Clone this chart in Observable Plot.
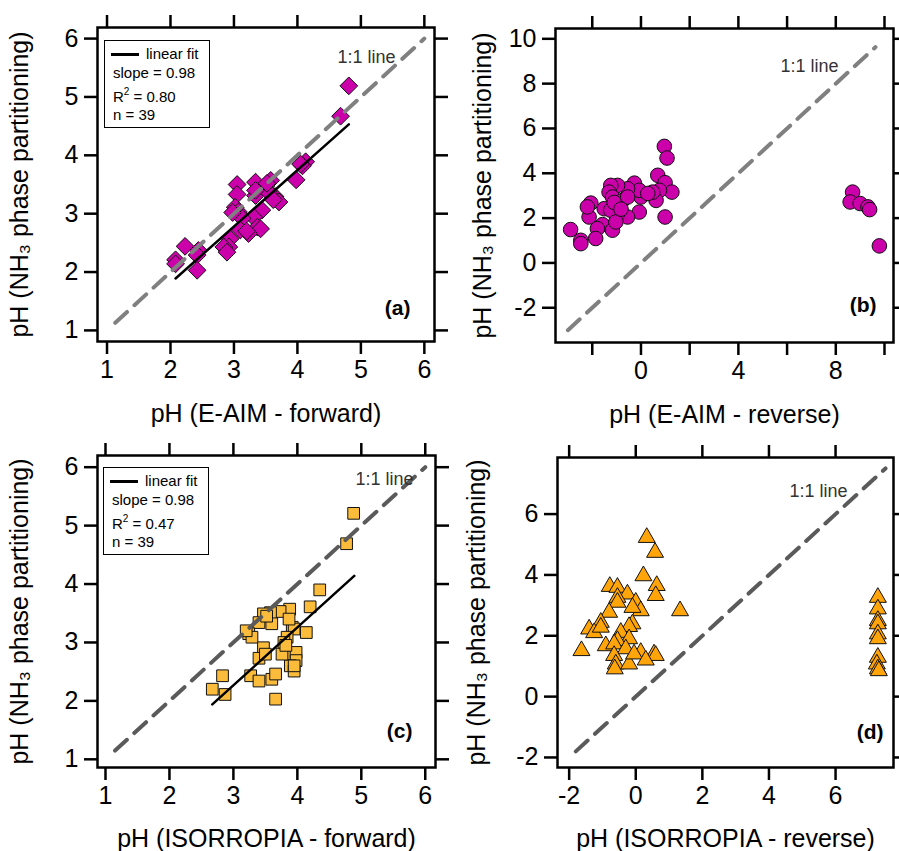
<!DOCTYPE html>
<html><head><meta charset="utf-8">
<script src="https://cdn.jsdelivr.net/npm/d3@7"></script>
<script src="https://cdn.jsdelivr.net/npm/@observablehq/plot@0.6"></script>
<style>
body{margin:0;background:#fff;}
#fig{position:relative;width:899px;height:851px;overflow:hidden;background:#fff;font-family:"Liberation Sans",Arial,sans-serif;}
.panel{position:absolute;}
.legend{position:absolute;border:1.5px solid #000;background:#fff;font-size:15px;color:#000;box-sizing:border-box;}
.legend div{position:absolute;white-space:nowrap;line-height:15px;}
.legend .sample{display:inline-block;width:28px;border-top:3px solid #000;vertical-align:middle;margin-right:7px;position:relative;top:-1px;}
.legend sup{font-size:10px;vertical-align:7px;line-height:0;}
</style></head><body><div id="fig"></div>
<script>
// ---------- data ----------
const yAxisLabel = "pH (NH\u2083 phase partitioning)";
const xLabelA = "pH (E-AIM - forward)";
const xLabelB = "pH (E-AIM - reverse)";
const xLabelC = "pH (ISORROPIA - forward)";
const xLabelD = "pH (ISORROPIA - reverse)";

// (a) E-AIM forward vs NH3 partitioning
const aX = [4.81,4.68,4.13,4.08,3.98,3.58,3.34,3.05,3.05,3.34,3.50,3.65,3.71,3.02,3.07,3.44,3.31,3.13,3.37,3.42,3.23,3.10,2.94,2.92,2.84,2.89,2.23,2.44,2.42,2.08,2.08,2.42,3.55,3.62,4.05,3.52,3.34,2.98,3.20];
const aY = [5.19,4.67,3.89,3.82,3.58,3.57,3.54,3.50,3.33,3.31,3.46,3.29,3.20,3.11,3.03,3.06,2.94,2.92,2.77,2.74,2.66,2.72,2.57,2.43,2.43,2.34,2.44,2.37,2.29,2.21,2.14,2.03,3.36,3.24,3.85,3.52,3.40,3.02,2.70];
const aFitX = [2.08, 4.81];
const aFitY = [1.89, 4.53];
const aOneToOne = [1.13, 6.0];

// (b) E-AIM reverse
const bX = [0.96,1.07,0.99,0.69,0.99,1.27,0.76,0.62,-0.27,0.00,-0.07,-0.55,-0.96,-1.24,-1.31,-1.17,-0.75,-0.55,-0.07,-0.55,-0.96,-0.96,-1.51,-1.24,-2.06,-2.13,-2.20,-1.58,-1.79,-1.86,-1.17,-1.03,-2.89,-2.47,-2.47,-1.10,-0.82,0.48,0.28,8.69,8.59,9.00,9.32,9.39,9.79];
const bY = [5.20,4.68,2.05,3.91,3.58,3.16,3.24,2.79,3.56,2.94,3.24,3.31,3.46,3.46,3.16,2.94,2.79,2.94,2.27,2.05,2.20,2.50,2.42,2.35,2.67,2.05,2.50,1.71,1.53,1.09,1.46,1.83,1.49,1.01,0.86,2.70,2.40,3.16,3.10,3.16,2.72,2.65,2.50,2.38,0.76];
const bOneToOne = [-3.0, 9.63];

// (c) ISORROPIA forward
const cX = [4.88,4.77,4.35,4.20,3.88,3.73,3.58,3.47,3.40,3.60,3.92,3.95,4.14,3.24,3.29,3.84,3.79,3.47,3.89,3.98,3.40,3.98,3.89,3.95,3.27,3.40,3.60,3.66,2.83,2.67,2.87,3.66,3.50,3.76,3.95,3.52,3.87,3.20,3.82];
const cY = [5.21,4.69,3.90,3.61,3.57,3.53,3.51,3.49,3.34,3.32,3.26,3.23,3.17,3.15,3.09,3.09,3.00,2.91,2.80,2.83,2.73,2.69,2.60,2.51,2.43,2.34,2.37,2.46,2.43,2.20,2.11,2.03,2.80,2.80,2.60,3.45,3.40,3.20,2.95];
const cFitX = [2.67, 4.89];
const cFitY = [1.94, 4.14];
const cOneToOne = [1.15, 6.0];

// (d) ISORROPIA reverse
const dX = [0.33,0.58,0.23,0.63,0.60,1.33,-0.78,-0.55,-0.25,0.00,0.15,-0.55,-0.55,-0.10,-0.80,-1.05,-1.40,-1.25,-1.05,-0.10,-0.20,-0.45,-0.20,-0.55,-0.90,-0.65,-1.63,-0.30,0.15,0.55,0.60,-0.65,-0.60,-0.63,-0.20,-0.05,0.30,7.27,7.27,7.27,7.27,7.27,7.27,7.27,7.24,7.27,7.30];
const dY = [5.23,4.74,3.97,3.65,3.32,2.82,3.62,3.59,3.37,3.10,2.82,3.26,3.10,2.93,2.77,2.44,2.22,2.10,2.28,2.39,2.30,2.11,1.90,1.84,1.67,1.73,1.51,1.57,1.45,1.40,1.35,1.35,1.07,0.91,1.07,1.40,1.20,3.26,2.88,2.50,2.39,2.06,1.90,1.29,1.07,0.91,0.85];
const dOneToOne = [-1.8, 7.5];

// ticks and tick labels
const fwdTicks = [1,2,3,4,5,6];
const fwdTickLabels = ["1","2","3","4","5","6"];
const bXTicks = [-2,0,2,4,6,8,10];
const bXTickLabels = ["","0","","4","","8",""];
const bYTicks = [-2,0,2,4,6,8,10];
const bYTickLabels = ["-2","0","2","4","6","8","10"];
const dXTicks = [-2,0,2,4,6];
const dXTickLabels = ["-2","0","2","4","6"];
const dYTicks = [-2,0,2,4,6];
const dYTickLabels = ["-2","0","2","4","6"];

const legendA = ["linear fit", "slope = 0.98", "0.80", "n = 39"];
const legendC = ["linear fit", "slope = 0.98", "0.47", "n = 39"];
const oneToOneText = "1:1 line";

// ---------- drawing ----------
const FONT = '"Liberation Sans", Arial, Helvetica, sans-serif';
const LETTER_FONT = '"Liberation Sans Narrow", "Arial Narrow", "Liberation Sans", Arial, sans-serif';
const fig = document.getElementById("fig");

function fmt(ticks, labels) {
  const m = new Map(ticks.map((t, i) => [t, labels[i]]));
  return d => m.get(d) ?? "";
}

function panel(cfg) {
  const pts = cfg.xs.map((x, i) => ({x, y: cfg.ys[i]}));
  const marks = [
    Plot.dot(pts, {x: "x", y: "y", symbol: cfg.symbol, r: cfg.r, fill: cfg.fill, stroke: "#111", strokeWidth: 1}),
    Plot.line(cfg.one, {x: d => d, y: d => d, stroke: cfg.dashColor, strokeWidth: 4, strokeDasharray: "16,10"}),
  ];
  if (cfg.fitX) {
    const fit = cfg.fitX.map((x, i) => ({x, y: cfg.fitY[i]}));
    marks.push(Plot.line(fit, {x: "x", y: "y", stroke: "#000", strokeWidth: 2.5}));
  }
  marks.push(
    Plot.frame({stroke: "#000", strokeWidth: 2.5}),
    Plot.axisX({anchor: "bottom", ticks: cfg.xTicks, tickSize: 13, tickPadding: 6, strokeWidth: 2.5,
      tickFormat: fmt(cfg.xTicks, cfg.xTickLabels), label: cfg.xLabel, labelAnchor: "center", labelArrow: "none", labelOffset: cfg.xLabelOffset}),
    Plot.axisX({anchor: "top", ticks: cfg.xTicks, tickSize: 13, strokeWidth: 2.5, tickFormat: () => "", label: null}),
    Plot.axisY({anchor: "left", ticks: cfg.yTicks, tickSize: 13, tickPadding: 6, strokeWidth: 2.5,
      tickFormat: fmt(cfg.yTicks, cfg.yTickLabels), label: yAxisLabel, labelAnchor: "center", labelArrow: "none", labelOffset: cfg.yLabelOffset}),
    Plot.axisY({anchor: "right", ticks: cfg.yTicks, tickSize: 13, strokeWidth: 2.5, tickFormat: () => "", label: null}),
    Plot.text([oneToOneText], {text: d => d, frameAnchor: "top-right", dx: cfg.oneDx, dy: cfg.oneDy, textAnchor: "end", fontSize: 18, fill: "#333"}),
    Plot.text([cfg.letter], {text: d => d, frameAnchor: "bottom-right", dx: cfg.letterDx, dy: cfg.letterDy, textAnchor: "end", fontSize: 21, fontWeight: "bold", fontFamily: LETTER_FONT, fill: "#000"})
  );
  const svg = Plot.plot({
    width: cfg.width, height: cfg.height,
    marginTop: cfg.m[0], marginRight: cfg.m[1], marginBottom: cfg.m[2], marginLeft: cfg.m[3],
    x: {domain: cfg.xDomain},
    y: {domain: cfg.yDomain},
    style: {fontFamily: FONT, fontSize: "25px", background: "transparent", color: "#000", overflow: "visible"},
    marks
  });
  const div = document.createElement("div");
  div.className = "panel";
  div.style.left = cfg.left + "px";
  div.style.top = cfg.top + "px";
  div.appendChild(svg);
  fig.appendChild(div);
}

function legend(items, left, top) {
  const box = document.createElement("div");
  box.className = "legend";
  Object.assign(box.style, {left: left + "px", top: top + "px", width: "106px", height: "88px"});
  box.innerHTML =
    `<div style="left:6px;top:5px"><span class="sample"></span>${items[0]}</div>` +
    `<div style="left:8px;top:24px">${items[1]}</div>` +
    `<div style="left:8px;top:48px">R<sup>2</sup> = ${items[2]}</div>` +
    `<div style="left:8px;top:66px">${items[3]}</div>`;
  fig.appendChild(box);
}

panel({left: 0, top: 0, width: 450, height: 430, m: [27, 16, 89, 97],
  xs: aX, ys: aY, symbol: "diamond2", r: 8, fill: "#CC00AA",
  xDomain: [0.85, 6.16], yDomain: [0.81, 6.19],
  xTicks: fwdTicks, xTickLabels: fwdTickLabels, yTicks: fwdTicks, yTickLabels: fwdTickLabels,
  xLabel: xLabelA, xLabelOffset: 80, yLabelOffset: 87,
  one: aOneToOne, dashColor: "#808080", fitX: aFitX, fitY: aFitY,
  oneDx: -39, oneDy: 23, letter: "(a)", letterDx: -24, letterDy: -27});

panel({left: 450, top: 0, width: 449, height: 430, m: [28, 6, 88, 105],
  xs: bX, ys: bY, symbol: "circle", r: 7.3, fill: "#CC00AA",
  xDomain: [-3.51, 10.37], yDomain: [-3.55, 10.46],
  xTicks: bXTicks, xTickLabels: bXTickLabels, yTicks: bYTicks, yTickLabels: bYTickLabels,
  xLabel: xLabelB, xLabelOffset: 80, yLabelOffset: 82,
  one: bOneToOne, dashColor: "#808080",
  oneDx: -55, oneDy: 31, letter: "(b)", letterDx: -17, letterDy: -31});

panel({left: 0, top: 430, width: 450, height: 421, m: [25, 15, 84, 97],
  xs: cX, ys: cY, symbol: "square", r: 6.6, fill: "#FBBC3C",
  xDomain: [0.875, 6.16], yDomain: [0.86, 6.2],
  xTicks: fwdTicks, xTickLabels: fwdTickLabels, yTicks: fwdTicks, yTickLabels: fwdTickLabels,
  xLabel: xLabelC, xLabelOffset: 79, yLabelOffset: 87,
  one: cOneToOne, dashColor: "#5a5a5a", fitX: cFitX, fitY: cFitY,
  oneDx: -22, oneDy: 17, letter: "(c)", letterDx: -23, letterDy: -30});

panel({left: 450, top: 430, width: 449, height: 421, m: [27, 6, 84, 107],
  xs: dX, ys: dY, symbol: "triangle", r: 6.3, fill: "#FFA50A",
  xDomain: [-2.35, 7.74], yDomain: [-2.33, 7.86],
  xTicks: dXTicks, xTickLabels: dXTickLabels, yTicks: dYTicks, yTickLabels: dYTickLabels,
  xLabel: xLabelD, xLabelOffset: 79, yLabelOffset: 90,
  one: dOneToOne, dashColor: "#5a5a5a",
  oneDx: -46, oneDy: 27, letter: "(d)", letterDx: -10, letterDy: -29});

legend(legendA, 104, 40);
legend(legendC, 103, 467);
</script></body></html>
